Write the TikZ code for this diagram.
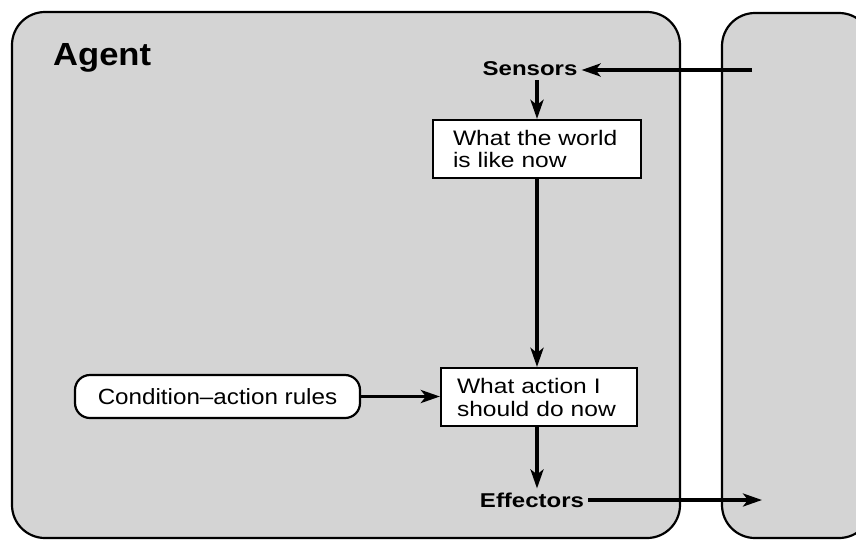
\documentclass[tikz,border=0pt]{standalone}
\usepackage{fontspec}
\setmainfont{Liberation Sans}
\newfontfamily\agentfont[FakeStretch=1.08]{Liberation Sans}
\newfontfamily\labfont[FakeStretch=1.2]{Liberation Sans}
\newfontfamily\boxfont[FakeStretch=1.17]{Liberation Sans}
\newfontfamily\rulefont[FakeStretch=1.1]{Liberation Sans}
\usetikzlibrary{arrows.meta}
\definecolor{panelgray}{RGB}{212,212,212}
\tikzset{
  panel/.style={draw=black, line width=2.2pt, fill=panelgray, rounded corners=33pt},
  wbox/.style={draw=black, line width=2.2pt, fill=white, minimum height=58pt, align=left, inner ysep=0pt},
  lab/.style={font=\labfont\bfseries\fontsize{20}{23}\selectfont, inner sep=4pt},
  arr/.style={line width=3.4pt, -{Stealth[length=19pt,width=13pt,inset=5pt]}},
  rulebox/.style={draw=black, line width=2.2pt, fill=white, rounded corners=15pt,
    minimum width=285pt, minimum height=43pt, font=\rulefont\fontsize{22}{24}\selectfont, inner sep=0pt}
}
\begin{document}
\begin{tikzpicture}[x=1pt,y=-1pt]
\useasboundingbox (0,0) rectangle (856,539);
\clip (0,0) rectangle (856,539);
\fill[white] (0,0) rectangle (856,539);
% panels
\draw[panel] (12,12) rectangle (680,538);
\draw[panel] (722,13) rectangle (872,538);
% text
\node[anchor=base west, inner sep=0pt, font=\agentfont\bfseries\fontsize{32}{36}\selectfont] (agent) at (53,65) {Agent};
\node[lab] (sens) at (530,69) {Sensors};
\node[lab] (eff) at (532,500) {Effectors};
\node[wbox, minimum width=208pt, text width=168pt, inner xsep=20pt,
      font=\boxfont\fontsize{21}{22}\selectfont] (box1) at (537,149) {What the world\\is like now};
\node[wbox, minimum width=196pt, text width=164pt, inner xsep=16pt,
      font=\boxfont\fontsize{21}{23}\selectfont] (box2) at (539,397) {What action I\\should do now};
\node[rulebox] (cond) at (217.5,396.5) {Condition\textendash action rules};
% free ends in environment
\coordinate (envout) at (752,70);
\coordinate (envin) at (762,500);
% connectors
\draw[arr] (envout) -- (sens.east |- envout);
\draw[arr] (sens.south -| box1.north) -- (box1.north);
\draw[arr] (box1.south) -- (box1.south |- box2.north);
\draw[arr] (cond.east) -- (cond.east -| box2.west);
\draw[arr] (box2.south -| box1.south) -- (eff.north -| box1.south);
\draw[arr] (eff.east) -- (eff.east -| envin);
\end{tikzpicture}
\end{document}
